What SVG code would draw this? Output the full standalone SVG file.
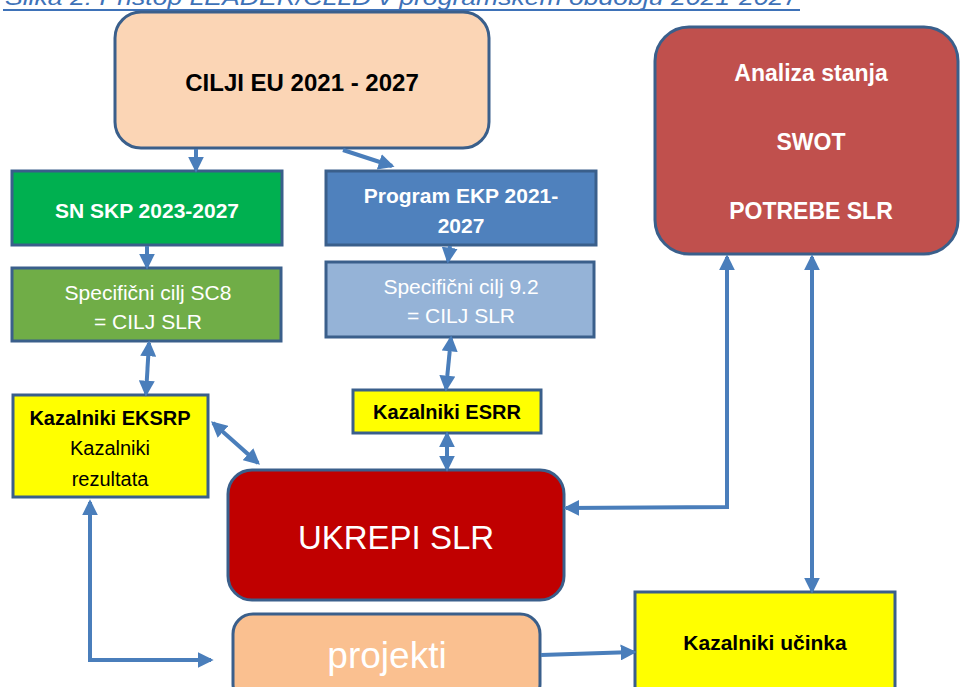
<svg xmlns="http://www.w3.org/2000/svg" width="960" height="687" viewBox="0 0 960 687">
<style>
.box{stroke:#3A5F8B;stroke-width:3}
.t{font-family:"Liberation Sans","Open Sans",sans-serif;text-anchor:middle}
.b{font-weight:bold}
.w{fill:#ffffff}
.k{fill:#000000}
.c{fill:none;stroke:#4A7EBB;stroke-width:4}
</style>
<defs>
<marker id="ah" viewBox="0 0 12 12" refX="10" refY="6" markerWidth="16" markerHeight="16" markerUnits="userSpaceOnUse" orient="auto-start-reverse">
<path d="M0,0 L12,6 L0,12 z" fill="#4A7EBB"/>
</marker>
</defs>
<rect width="960" height="687" fill="#ffffff"/>
<g id="caption">
<text x="5" y="5" font-family="Liberation Sans, sans-serif" font-style="italic" font-size="22" fill="#3E72B8" textLength="793" lengthAdjust="spacingAndGlyphs">Slika 2: Pristop LEADER/CLLD v programskem obdobju 2021-2027</text>
<line x1="3" y1="10" x2="800" y2="10" stroke="#3E72B8" stroke-width="2"/>
</g>
<g id="cilji">
<rect class="box" x="115" y="12" width="374" height="136" rx="26" fill="#FBD5B5"/>
<text class="t b k" x="302" y="91" font-size="24">CILJI EU 2021 - 2027</text>
</g>
<g id="snskp">
<rect class="box" x="12" y="171" width="270" height="74" fill="#00B050"/>
<text class="t b w" x="147" y="218" font-size="21">SN SKP 2023-2027</text>
</g>
<g id="sc8">
<rect class="box" x="12" y="268" width="269" height="73" fill="#70AD47"/>
<text class="t w" x="148" y="300" font-size="21">Specifični cilj SC8</text>
<text class="t w" x="148" y="329" font-size="21">= CILJ SLR</text>
</g>
<g id="ekp">
<rect class="box" x="326" y="171" width="270" height="74" fill="#4F81BD"/>
<text class="t b w" x="461" y="203" font-size="21">Program EKP 2021-</text>
<text class="t b w" x="461" y="233" font-size="21">2027</text>
</g>
<g id="sc92">
<rect class="box" x="326" y="262" width="268" height="75" fill="#95B3D7"/>
<text class="t w" x="461" y="294" font-size="21">Specifični cilj 9.2</text>
<text class="t w" x="461" y="323" font-size="21">= CILJ SLR</text>
</g>
<g id="eksrp">
<rect class="box" x="13" y="395" width="195" height="102" fill="#FFFF00"/>
<text class="t b k" x="110" y="425" font-size="20">Kazalniki EKSRP</text>
<text class="t k" x="110" y="455" font-size="20">Kazalniki</text>
<text class="t k" x="110" y="486" font-size="20">rezultata</text>
</g>
<g id="esrr">
<rect class="box" x="353" y="390" width="188" height="43" fill="#FFFF00"/>
<text class="t b k" x="447" y="419" font-size="20">Kazalniki ESRR</text>
</g>
<g id="ukrepi">
<rect class="box" x="228" y="470" width="336" height="130" rx="24" fill="#C00000"/>
<text class="t w" x="396" y="549" font-size="33">UKREPI SLR</text>
</g>
<g id="projekti">
<rect class="box" x="233" y="614" width="307" height="90" rx="20" fill="#FAC090"/>
<text class="t w" x="387" y="668" font-size="37">projekti</text>
</g>
<g id="ucinka">
<rect class="box" x="635" y="592" width="260" height="110" fill="#FFFF00"/>
<text class="t b k" x="765" y="650" font-size="21">Kazalniki učinka</text>
</g>
<g id="analiza">
<rect class="box" x="655" y="27" width="303" height="227" rx="34" fill="#C0504D"/>
<text class="t b w" x="811" y="81" font-size="23">Analiza stanja</text>
<text class="t b w" x="811" y="150" font-size="23">SWOT</text>
<text class="t b w" x="811" y="219" font-size="23">POTREBE SLR</text>
</g>
<g id="connectors">
<line class="c" x1="196" y1="149" x2="196" y2="170" marker-end="url(#ah)"/>
<line class="c" x1="343" y1="150" x2="392" y2="166" marker-end="url(#ah)"/>
<line class="c" x1="147" y1="246" x2="147" y2="267" marker-end="url(#ah)"/>
<line class="c" x1="450" y1="246" x2="448" y2="261" marker-end="url(#ah)"/>
<line class="c" x1="149" y1="343" x2="146" y2="394" marker-start="url(#ah)" marker-end="url(#ah)"/>
<line class="c" x1="451" y1="338" x2="446" y2="389" marker-start="url(#ah)" marker-end="url(#ah)"/>
<line class="c" x1="447" y1="434" x2="447" y2="469" marker-start="url(#ah)" marker-end="url(#ah)"/>
<line class="c" x1="213" y1="423" x2="258" y2="463" marker-start="url(#ah)" marker-end="url(#ah)"/>
<polyline class="c" points="566,508 727,507 727,257" marker-start="url(#ah)" marker-end="url(#ah)"/>
<line class="c" x1="812" y1="257" x2="812" y2="591" marker-start="url(#ah)" marker-end="url(#ah)"/>
<polyline class="c" points="90,502 90,660 211,660" marker-start="url(#ah)" marker-end="url(#ah)"/>
<line class="c" x1="541" y1="655" x2="634" y2="652" marker-end="url(#ah)"/>
</g>
</svg>
